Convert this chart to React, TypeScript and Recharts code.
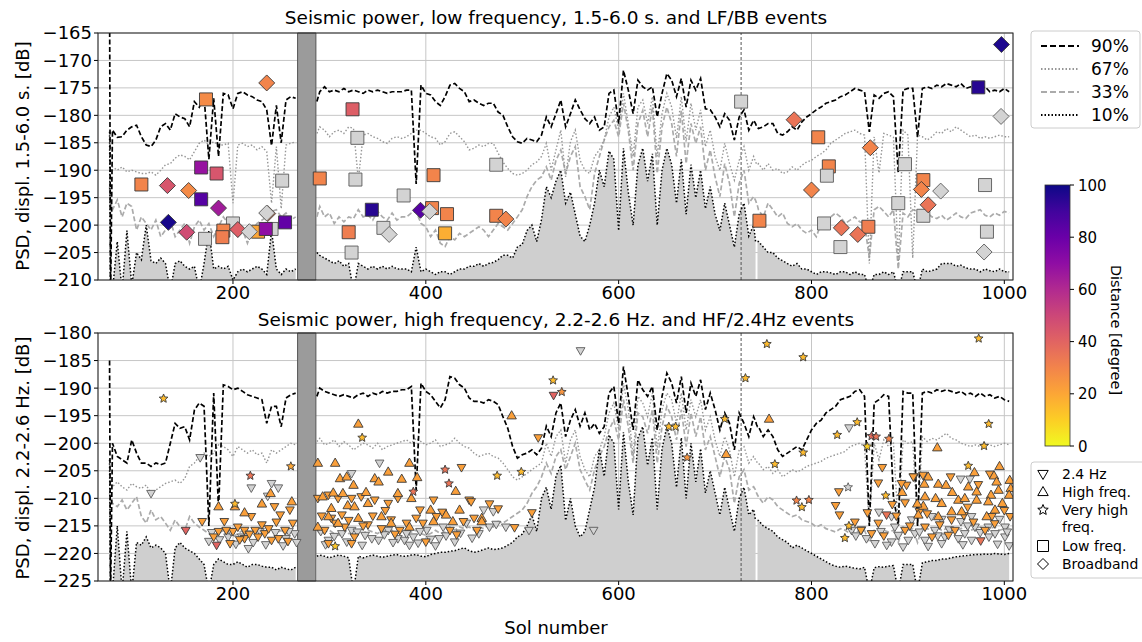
import React from 'react';
import {
  ComposedChart, Line, Area, Scatter, XAxis, YAxis, CartesianGrid,
  ReferenceArea, ReferenceLine,
} from 'recharts';

// ── x grid shared by every percentile curve (sol number) ─────────────
const SOLS = [
  72, 73,
  75, 80, 85, 90, 95, 100, 105, 110, 115, 120,
  125, 130, 135, 140, 145, 150, 155, 160, 165, 170,
  175, 180, 185, 190, 195, 200, 205, 210, 215, 220,
  225, 230, 235, 240, 245, 250, 255, 260, 265,
  276, 287,
  290, 295, 300, 305, 310, 315, 320, 325, 330, 335,
  340, 345, 350, 355, 360, 365, 370, 375, 380, 385,
  390, 395, 400, 405, 410, 415, 420, 425, 430, 435,
  440, 445, 450, 455, 460, 465, 470, 475, 480, 485,
  490, 495, 500, 505, 510, 515, 520, 525, 530, 535,
  540, 545, 550, 555, 560, 565, 570, 575, 580, 585,
  590, 595, 600, 605, 610, 615, 620, 625, 630, 635,
  640, 645, 650, 655, 660, 665, 670, 675, 680, 685,
  690, 695, 700, 705, 710, 715, 720, 725, 730, 735,
  740, 742, 743, 744,
  745, 750, 755, 760, 765, 770, 775, 780, 785, 790,
  795, 800, 805, 810, 815, 820, 825, 830, 835, 840,
  845, 850, 855, 860, 865, 870, 875, 880, 885, 890,
  895, 900, 905, 910, 915, 920, 925, 930, 935, 940,
  945, 950, 955, 960, 965, 970, 975, 980, 985, 990,
  995, 1000, 1005,
];

// ── low frequency panel (dB) ──────────────────────────────────────────
const TOP_P90 = [
  -158, -214,
  -182.7, -184, -183.9, -182.7, -182.1, -181.8, -183.9, -185.4, -185.7, -184.5,
  -182.1, -181.5, -182.7, -179.7, -180.3, -180.6, -182.1, -177.5, -178.5, -176.6,
  -188, -176.9, -187.5, -176, -176.3, -178.8, -176, -175.7, -176.3, -176.6,
  -177.2, -177.5, -179, -185.5, -178.2, -185, -177.2, -176.6, -176.9,
  null, -177.5,
  -175.7, -174.8, -175.7, -175.4, -175.7, -175.1, -175.7, -175.4, -175.7, -176,
  -175.4, -175.7, -175.4, -175.7, -176, -175.7, -175.7, -175.7, -175.4, -175.4,
  -192.5, -174.5, -176, -176.3, -177.5, -178.2, -176.6, -174.5, -174.2, -175.1,
  -175.7, -177.5, -177.2, -177.8, -178.2, -177.8, -177.8, -179.4, -180, -182.1,
  -183.9, -184.8, -185.1, -184.2, -184.5, -184.8, -183.6, -180.3, -182.1, -179.7,
  -177.2, -182.1, -179.7, -177.2, -179, -180.6, -181.5, -180.3, -182.7, -182.1,
  -176, -175.4, -181.5, -171.8, -175.4, -179.7, -173.6, -174.8, -175.4, -174.8,
  -180.3, -176, -172.4, -173.6, -176.6, -173.3, -178.5, -173.6, -175.4, -173.3,
  -178.8, -179, -180.3, -182.1, -179.7, -180.9, -184.5, -180.3, -179, -182.7,
  -180.9, -181.5, -182, -182.2,
  -182.4, -182.1, -181.5, -181.5, -183.3, -183.6, -183, -182.1, -182.7, -181.2,
  -180.3, -179.7, -179, -178.5, -177.8, -177.5, -177.2, -176.6, -176.3, -175.7,
  -175.1, -175.4, -175.7, -183, -176.3, -176.9, -176, -175.7, -176.6, -190.5,
  -175.4, -175.1, -175.1, -184, -175.1, -174.8, -175.1, -174.5, -174.8, -174.2,
  -174.5, -174.8, -174.2, -175.1, -174.8, -175.1, -175.4, -174.8, -175.7, -175.4,
  -175.7, -175.1, -175.7,
];
const TOP_P67 = [
  -188, -190,
  -189.4, -190, -189.4, -190.3, -190, -190.3, -190.6, -190.6, -190.3, -190.9,
  -190, -189, -188.8, -187.8, -187.2, -187.5, -188.1, -186.6, -185.1, -184.5,
  -185.4, -184.8, -185.4, -185.4, -185.1, -196, -185.4, -185.1, -185.7, -185.4,
  -186.3, -185.7, -186.6, -196, -185.7, -197, -185.4, -185.1, -184.8,
  null, -183.3,
  -182.1, -182.7, -183.9, -183, -182.7, -183.3, -182.1, -182.4, -191.8, -183.6,
  -183.3, -183.9, -184.2, -184.8, -185.1, -184.2, -183.9, -184.2, -183.9, -183.3,
  -182.7, -182.7, -183.3, -183.9, -184.2, -185.4, -184.8, -183.3, -183, -183.9,
  -184.8, -186.3, -186, -185.4, -185.7, -185.1, -185.1, -186.9, -188.5, -189.7,
  -190.6, -190.9, -190.6, -190, -189, -188.5, -187.5, -185.1, -190, -186.3,
  -182.7, -191.2, -184.8, -182.7, -188.2, -190, -190.6, -187.5, -186.3, -184.5,
  -180.3, -178.5, -182.7, -176, -181.5, -187.5, -178.5, -177.2, -181.5, -176.6,
  -187.5, -179.7, -176, -178.5, -184.2, -176.6, -184.8, -177.8, -182.7, -179,
  -185.7, -182.7, -187.5, -190, -185.1, -188.8, -191.8, -188.2, -185.7, -190,
  -187.5, -188.5, -188.8, -189,
  -188.8, -190, -188.8, -190, -189.7, -190.6, -190.3, -189.4, -190, -189.1,
  -188.5, -188.2, -187.5, -187, -186.3, -185.1, -184.5, -183.9, -183.3, -183,
  -182.7, -183.3, -183.6, -207, -183.9, -190.5, -183.3, -183.6, -184, -207,
  -182.7, -183.6, -206, -183.6, -183.9, -184.5, -183.9, -183, -183.3, -182.4,
  -183, -182.1, -182.7, -183.3, -183.9, -183.6, -184.2, -183.9, -184.2, -183.9,
  -183.6, -183.9, -183.9,
];
const TOP_P33 = [
  -193, -196,
  -197.2, -195.4, -198.5, -196, -196.6, -200.9, -198.5, -199.7, -200.9, -199.1,
  -202.1, -200.9, -199.1, -202.1, -200.9, -199.7, -203.3, -200.3, -199.1, -200.9,
  -199.7, -202.1, -200.3, -198.5, -199.7, -200.9, -202.1, -200.9, -203.3, -200.9,
  -199.7, -199.1, -198.5, -197.5, -197.2, -198.5, -197.8, -199.1, -198.5,
  null, -198.5,
  -196.6, -198.5, -197.8, -199.7, -198.5, -199.4, -198.5, -198.8, -197.2, -198.5,
  -198.2, -199.1, -197.5, -198.5, -199.1, -197.8, -199.1, -198.5, -198.5, -197.8,
  -197.5, -199.7, -200.3, -202.1, -200.9, -203.3, -203.9, -202.1, -202.7, -201.5,
  -202.1, -201.5, -200.9, -200.3, -200.9, -202.1, -200.9, -199.7, -200.3, -200.9,
  -199.7, -198.5, -197.2, -194.8, -193, -191.8, -191.2, -189.4, -191.8, -188.2,
  -186.3, -190.6, -187.5, -185.7, -193, -194.8, -197.2, -190.6, -187.5, -184.5,
  -182.1, -180.9, -183.9, -177.8, -182.7, -190, -181.5, -179.1, -183.9, -178.5,
  -190.6, -182.1, -178.5, -181.5, -187.5, -179.1, -188.8, -181.5, -185.1, -182.1,
  -190, -186.3, -191.2, -194.8, -188.8, -192.4, -198.5, -192.4, -190, -196,
  -194.8, -195.5, -196, -196.5,
  -197.2, -198.5, -196, -197.2, -198.5, -197.8, -199.7, -200.3, -199.7, -200.9,
  -201.5, -200.9, -202.1, -199.7, -199.1, -198.5, -197.8, -198.5, -199.7, -199.1,
  -198.5, -199.4, -199.7, -206, -197.2, -196.6, -197.5, -198.5, -197.2, -208,
  -197.8, -198.5, -197.2, -197.5, -198.5, -197.8, -198.5, -198.8, -198.2, -199.1,
  -198.5, -197.8, -198.5, -198.8, -197.8, -197.5, -197.2, -198.2, -198.5, -197.8,
  -198.2, -197.5, -197.8,
];
const TOP_P10 = [
  -183, -213,
  -212, -203, -212, -201, -211, -205, -206.3, -200, -206.5, -207,
  -206, -207, -212, -207, -206.5, -207.5, -208, -207.5, -212, -207,
  -201, -208, -207.5, -208, -207.5, -210, -208.5, -208, -208.5, -208,
  -207.5, -208, -209, -201, -208, -209, -208, -208.5, -208,
  null, -205,
  -205.5, -206, -206.5, -207, -206.5, -207.5, -207, -212, -207, -207.5,
  -208, -207.5, -208, -207.5, -208, -207.5, -208, -208, -208, -208.5,
  -204, -208.5, -208, -208.5, -209, -208.5, -208.5, -209, -208.5, -208,
  -208, -207.5, -207.5, -207, -207.5, -207, -206.8, -206.3, -205.5, -205.5,
  -206, -204, -203.5, -201, -200, -203, -199, -193, -195, -192,
  -190, -196, -194, -198, -202, -203, -200, -196, -190, -193,
  -186.5, -188, -201, -186, -194, -200, -189, -186, -192, -187,
  -200, -190, -186, -189, -196, -188, -198, -189, -195, -190,
  -197, -193, -198, -201, -196, -200, -204, -198, -196, -202,
  -200, -203, null, -203,
  -203, -204, -205, -205, -206, -206.5, -207, -207.5, -207, -208,
  -208, -208.5, -209, -208.5, -208.5, -208.7, -209, -208.5, -208.5, -209,
  -208.5, -209, -209, -212, -209, -209, -208.5, -209, -208.5, -212,
  -208.5, -208.5, -208.5, -212, -208, -208.5, -208.3, -208, -207, -207,
  -207, -207.5, -207.3, -207.8, -208, -208, -208.5, -208, -208.3, -208.5,
  -208, -208.5, -208.5,
];

// ── high frequency panel (dB) ─────────────────────────────────────────
const BOT_P90 = [
  -185, -228,
  -200, -202.4, -203, -203.6, -199.4, -201.8, -203.6, -203.6, -204.2, -203.6,
  -203.9, -203.6, -200, -196.4, -197.3, -197, -199.4, -194, -192.7, -193.3,
  -215, -190.9, -212, -189.4, -189.7, -190.3, -190, -190.6, -191.2, -191.5,
  -191.8, -192.1, -196.4, -193.3, -193.3, -197, -191.8, -191.2, -190.9,
  null, -191.5,
  -190, -190.6, -190.9, -191.2, -191.5, -191.2, -191.5, -191.8, -191.2, -190.9,
  -191.5, -190.9, -191.2, -190.6, -190.9, -190.6, -190.6, -190.3, -190.3, -189.7,
  -208.5, -189.1, -190.6, -191.2, -192.4, -193.6, -192.1, -187.9, -188.2, -189.4,
  -190, -191.8, -192.4, -192.4, -192.7, -192.1, -192.4, -193, -195.2, -197.3,
  -200.6, -202.7, -202.1, -201.8, -201.2, -202.1, -200.9, -196.9, -198.8, -194.5,
  -192.7, -198.8, -195.8, -193.9, -196.9, -194.5, -197.6, -196.4, -198.2, -197,
  -190.9, -189.7, -196.4, -186.1, -191.5, -197.6, -188.5, -190.3, -191.5, -189.7,
  -197.6, -191.5, -187.3, -189.1, -192.7, -187.9, -194.5, -189.1, -191.5, -188.5,
  -193.9, -190.9, -193.9, -197.6, -194.5, -196.4, -201.2, -194.5, -196.4, -198.8,
  -195.2, -196, -196.6, -197,
  -197, -198.8, -197.6, -198.8, -201.2, -202.4, -201.8, -201.2, -200.6, -201.2,
  -199.4, -197.6, -196.4, -195.8, -194.5, -193.9, -193.3, -192.1, -191.8, -191.5,
  -190.6, -190.3, -191.5, -215, -192.7, -192.1, -191.2, -191.5, -209.7, -215,
  -190.6, -190.9, -190.9, -215, -190.9, -190.6, -190.9, -190.3, -190.6, -190.3,
  -190.6, -190.9, -190.6, -191.2, -190.9, -191.5, -190.9, -191.5, -191.2, -191.8,
  -191.5, -192.1, -192.4,
];
const BOT_P67 = [
  -205, -207,
  -207.9, -207, -207.9, -208.5, -207.3, -207.9, -208.2, -207.6, -209.1, -208.5,
  -207.9, -207.3, -207, -206.7, -207.3, -206.4, -204.2, -203.6, -202.4, -201.8,
  -202.4, -201.8, -200.3, -200.6, -201.2, -202.4, -200.6, -201.2, -201.8, -201.2,
  -202.1, -201.8, -203.6, -201.2, -201.8, -201.2, -200.6, -200, -200.3,
  null, -199.7,
  -199.1, -200.3, -200, -199.4, -200.6, -199.7, -200.3, -201.2, -200.6, -200,
  -200.3, -200.9, -200, -201.2, -200.6, -200.3, -200, -199.7, -199.4, -200,
  -199.1, -199.7, -200.3, -200, -199.4, -200.6, -200.3, -200, -199.1, -200,
  -200.6, -200.9, -201.8, -202.4, -202.1, -201.8, -202.4, -202.7, -203.6, -204.8,
  -206.1, -206.7, -206.1, -205.5, -204.8, -204.2, -203.6, -200, -202.4, -198.8,
  -197.6, -203.6, -199.4, -197.6, -202.4, -204.8, -206.1, -202.4, -201.2, -198.8,
  -194.5, -192.7, -197.6, -189.1, -193.9, -202.4, -191.5, -192.7, -195.2, -190.9,
  -201.2, -193.9, -190.9, -192.1, -196.4, -190.9, -197.6, -192.1, -195.2, -192.1,
  -197.6, -195.2, -199.4, -202.4, -198.8, -201.2, -206.1, -201.2, -200.6, -203.6,
  -202.4, -203, -203.3, -203.6,
  -203.6, -204.8, -204.2, -205.5, -204.8, -206.1, -205.5, -204.8, -205.2, -204.8,
  -204.2, -203.9, -203.6, -203.3, -202.7, -202.4, -202.1, -201.8, -201.5, -200.6,
  -200.3, -200, -200.6, -215, -200, -203, -199.4, -200.6, -200, -215,
  -199.4, -200, -199.7, -215, -198.8, -199.7, -199.1, -199.4, -198.8, -198.2,
  -199.1, -199.4, -200, -200.3, -200.6, -200.3, -200.6, -200, -200.3, -200.6,
  -200.3, -200, -200.3,
];
const BOT_P33 = [
  -209, -210,
  -210.9, -211.5, -210.3, -212.1, -210.9, -209.7, -213.3, -214.5, -212.1, -213.9,
  -213.3, -214.5, -215.8, -213.9, -215.2, -215.8, -213.3, -214.5, -215.2, -215.8,
  -216.4, -217, -216.4, -215.8, -216.4, -217, -216.4, -215.8, -216.4, -216.1,
  -215.8, -216.4, -215.8, -216.1, -216.4, -215.8, -216.4, -215.8, -216.4,
  null, -215.8,
  -216.4, -216.1, -215.8, -216.4, -216.7, -215.8, -216.4, -216.1, -215.8, -216.4,
  -215.8, -216.1, -216.4, -215.8, -216.1, -215.8, -216.4, -215.8, -216.4, -216.1,
  -215.8, -216.4, -216.7, -216.4, -215.8, -216.4, -216.1, -215.2, -215.8, -215.2,
  -215.5, -215.2, -215.8, -215.2, -215.5, -214.8, -215.2, -214.2, -214.5, -213.9,
  -213.3, -212.7, -212.1, -210.9, -209.1, -207.9, -206.1, -203.6, -205.5, -202.4,
  -201.2, -204.8, -202.4, -200, -204.8, -206.7, -208.5, -204.8, -202.4, -200.6,
  -197.6, -195.8, -199.4, -192.1, -197, -203.6, -194.5, -195.2, -198.2, -193.9,
  -203.6, -197, -193.3, -195.2, -199.4, -193.9, -200.6, -194.5, -198.8, -195.2,
  -201.2, -198.8, -202.4, -206.1, -202.4, -204.8, -210.9, -206.1, -204.8, -208.5,
  -207.9, -208.5, -209, -209.4,
  -209.7, -210.9, -209.7, -210.3, -211.5, -212.1, -212.7, -213.3, -213, -213.9,
  -214.2, -214.5, -215.2, -214.8, -215.5, -215.8, -216.1, -215.5, -215.8, -216.4,
  -215.8, -216.1, -215.8, -218, -215.8, -215.5, -215.8, -216.1, -215.8, -218,
  -215.2, -215.8, -215.5, -218, -215.2, -215.5, -215.8, -215.2, -215.8, -215.5,
  -215.2, -215.8, -215.5, -215.2, -215.8, -215.5, -215.2, -215.8, -215.5, -215.2,
  -215.8, -215.5, -215.2,
];
const BOT_P10 = [
  -203, -228,
  -227, -215, -227, -216, -227, -218, -218.5, -217, -219, -218.5,
  -219, -220, -227, -219, -218, -219, -219.5, -220, -221, -222,
  -227, -222, -221, -221.5, -222, -222, -221.5, -222, -222.5, -222,
  -222, -222.3, -222.5, -222.5, -223, -222.5, -222.8, -223, -222.5,
  null, -220.5,
  -220.3, -220.5, -220.8, -220.5, -220.3, -220.5, -220.8, -227, -220.5, -220.8,
  -220.5, -220.3, -220.5, -220.7, -220.5, -220.3, -220.2, -220.5, -220.5, -220.3,
  -220.2, -220.5, -220.6, -220.2, -220, -219.8, -219.8, -219.6, -219.5, -219.2,
  -219, -219.5, -219.8, -219.6, -219.3, -219, -219.3, -219.2, -219, -218.5,
  -218, -217, -216.5, -215, -213, -216, -210, -208, -212, -206,
  -204, -214, -210, -215, -217, -216, -212, -208, -201, -206,
  -198.5, -200, -212, -198, -207, -213, -199, -197, -204, -199,
  -212, -201, -197, -200, -208, -199, -210, -200, -207, -201,
  -209, -205, -209, -213, -208, -212, -216, -210, -208, -213,
  -212, -214, null, -214,
  -214, -215, -215.5, -216, -217, -217.5, -218, -219, -218.5, -219,
  -219.5, -220, -220.5, -221, -221.5, -222, -222.3, -222.5, -222.3, -222.5,
  -222.7, -222.8, -222.5, -227, -222.6, -222.4, -222.5, -222.3, -222.2, -227,
  -222, -222, -222, -227, -221.7, -221.5, -221.3, -221.3, -221, -221,
  -220.8, -220.6, -220.5, -220.4, -220.3, -220.2, -220.2, -220.1, -220.2, -220,
  -220.1, -220.2, -220,
];

// ── events: [sol, psd dB, distance deg (null = unknown)] ─────────────
type Ev = [number, number, number | null];

const LF_EVENTS: Ev[] = [
  [105, -192.6, 30], [172, -177.1, 28], [171, -202.5, null], [200, -199.7, null],
  [240, -200.7, null], [251, -191.9, null], [167, -189.5, 68], [167, -195.3, 85],
  [183, -190.6, 45], [190, -201, 30], [189, -202.2, 32], [226, -201.2, 20],
  [234, -200.7, 70], [254, -199.5, 82], [290, -191.5, 30], [324, -178.9, 42],
  [329, -184.1, null], [327, -191.7, null], [377, -194.6, null], [344, -197.2, 95],
  [320, -201.3, 32], [323, -205, null], [356, -200.5, null], [408, -190.9, 30],
  [406.5, -196.9, 30], [422, -198, 30], [420, -201.5, 18], [473, -189, null],
  [473, -198.3, 30], [727, -177.5, null], [807, -184, 30], [818, -189.3, 30],
  [816, -191, null], [746, -199.2, 30], [813, -199.7, null], [830, -204, null],
  [859, -200.3, 32], [897, -188.9, null], [890, -196, null], [916, -191.8, 30],
  [916, -198.3, null], [973, -174.9, 95], [980, -192.7, null], [982, -201.2, null],
];

const BB_EVENTS: Ev[] = [
  [132, -192.8, 45], [154, -193.7, 28], [185, -196.9, 65], [133, -199.5, 98],
  [152, -201.3, 48], [205, -200.8, 42], [217, -201.2, null], [236, -197.9, 30],
  [235, -197.8, null], [235, -174.1, 30], [362, -201.7, null], [394.5, -197.3, 85],
  [404, -197.5, null], [483, -198.9, 30], [782, -180.8, 35], [800, -193.6, 30],
  [831, -200.5, 35], [848, -201.7, 35], [861, -185.9, 30], [914, -193.5, 30],
  [921, -196.3, 35], [934, -193.8, null], [997, -167.1, 97], [996.6, -180.2, null],
  [979, -204.9, null],
];

const HZ24_EVENTS: Ev[] = [
  [166, -202.6, null], [115, -209.1, null], [219, -208.1, null], [247, -208.1, null],
  [240, -207.3, null], [236, -209.6, null], [175, -217.8, null], [195, -217, null],
  [216, -219.1, null], [255, -217.3, null], [264, -216.4, null], [209, -217, null],
  [323, -205.5, null], [352, -203.6, null], [361, -215.8, null], [371, -217.3, null],
  [299, -217.6, null], [313, -216.4, null], [337, -216.7, null], [351, -217.6, null],
  [323, -215.8, null],
  [178, -216.2, null], [186, -217.5, null], [198, -216, null], [203, -218.3, null],
  [214, -216.5, null], [221, -218, null], [228, -216, null], [234, -218.4, null],
  [244, -216.2, null], [252, -218.6, null], [258, -216, null], [266, -218, null],
  [291, -216, null], [296, -218.4, null], [305, -216.9, null], [318, -217.9, null],
  [329, -216.1, null], [334, -218.5, null], [344, -217.3, null], [357, -216.6, null],
  [366, -218, null], [378, -217.6, null], [383, -218.5, null], [392, -218.1, null],
  [405, -217.4, null], [410, -218.6, null], [421, -216.8, null], [430, -217.9, null],
  [436, -216.3, null], [448, -217.2, null], [455, -216.4, null],
  [168, -214.2, 22], [151, -215.8, 40], [185, -216, 22], [191, -214.2, 22],
  [200, -216, 22], [205, -215.2, 22], [212, -215.8, 22], [219, -213.3, 22],
  [223, -215.8, 22], [230, -214.8, 22], [233, -216.4, 22], [243, -211.5, 22],
  [249, -213, 22], [254, -215.8, 22], [259, -212.1, 22], [262, -214.5, 22],
  [247, -217.3, 22], [240, -217.6, 22], [226, -217, 22], [212, -217.3, 22],
  [193, -215.8, 22], [183, -218.5, 40], [288, -210, 22], [299, -209.4, 22],
  [309, -210, 22], [323, -210, 22], [333, -209.7, 22], [347, -210.3, 22],
  [361, -210.9, 22], [371, -210, 22], [295, -215.8, 22], [306, -214.5, 22],
  [316, -215.2, 22], [326, -217, 22], [340, -214.8, 22], [354, -215.5, 22],
  [364, -213.9, 22], [373, -215.8, 22], [299, -218.2, 22], [323, -218.2, 22],
  [302, -213.6, 22], [313, -213, 22],
  [180, -217, 22], [197, -218.2, 22], [207, -217.5, 22], [217, -216.5, 22],
  [237, -215.5, 22], [245, -214.3, 22], [257, -217.8, 22], [292, -213.2, 22],
  [320, -214, 22], [335, -215, 22], [345, -213.2, 22], [358, -212.2, 22],
  [368, -216.5, 22], [400, -217.9, 22], [417, -212.5, 22], [432, -216.6, 22],
  [450, -213.6, 22],
  [560.5, -183.2, null], [460, -212.1, null], [470, -212.4, null], [507, -215.8, null],
  [483, -215.2, null], [473, -214.7, null], [442, -214.5, null], [418, -215.2, null],
  [401, -215.8, null], [394, -216, null], [380, -216.4, null], [466, -215.2, null],
  [574, -215.8, null], [414, -217.3, null], [387, -217, null],
  [532.5, -191.3, 40], [437, -204.4, 22], [445, -210.3, 22], [447, -210.6, 22],
  [466, -211, 22], [475, -211.9, 22], [516.6, -199, 22], [510, -212.6, 22],
  [492, -215.3, 22], [411, -213.3, 22], [397, -214.5, 22], [390, -213.6, 22],
  [408, -210.3, 22], [394, -212.1, 22], [439, -214.2, 22], [425, -215.8, 22],
  [380, -214.5, 22], [453, -215.8, 22],
  [839, -197.2, null], [984, -217, null], [851.9, -215.7, null], [886.5, -215.2, null],
  [907.3, -216.4, null], [928, -215.8, null], [938.4, -217, null], [959, -216.4, null],
  [969.6, -215.2, null], [990.3, -216.4, null], [1000.7, -215.2, null], [865.8, -218.2, null],
  [883, -217.9, null], [900.4, -217.6, null], [917.7, -217.6, null], [935, -218.2, null],
  [952.3, -217.3, null], [966, -217.6, null], [983.4, -215.2, null], [1000.7, -217, null],
  [883, -213.3, null], [904, -213.9, null], [924.6, -213.3, null], [966, -213.3, null],
  [841.6, -215.8, null], [954.7, -206.5, null], [964.4, -206.5, null],
  [846, -216.8, null], [857, -217.3, null], [872, -216, null], [878, -218.5, null],
  [890, -216.7, null], [895, -218.8, null], [912, -216.1, null], [921, -218.7, null],
  [931, -216.8, null], [943, -215.7, null], [957, -218.4, null], [962, -215, null],
  [975, -216.2, null], [993, -218.3, null], [1003, -216.1, null], [870, -212.5, null],
  [935, -213.8, null], [995, -213.8, null], [955, -214.2, null], [1005, -218.6, null],
  [828.4, -208.8, 22], [825, -211.3, 22], [829, -213, 22], [869.3, -207.2, 22],
  [873.4, -204.4, 22], [883.8, -211.1, 22], [897, -210.8, 22], [906.3, -206.1, 22],
  [944.3, -206.1, 22], [973, -207.5, 22], [985, -205.6, 22], [975.5, -217.7, 35],
  [862.3, -216.4, 22], [869.3, -214.5, 22], [877.9, -213, 35], [897, -215.8, 22],
  [917.7, -215.2, 22], [948.8, -215.8, 22], [980, -215.8, 22], [1006, -213.3, 22],
  [945.3, -213.9, 22], [987, -213.3, 22], [851.3, -215.8, 20], [905.6, -206.1, 22],
  [898.6, -207.6, 22], [893.4, -207.3, 22], [915.6, -205.8, 22],
  [845, -214.3, 22], [858, -212.6, 22], [875, -216.8, 22], [888, -213.2, 22],
  [902, -215, 22], [912, -212.4, 22], [925, -217, 22], [933, -214.8, 22],
  [942, -216.7, 22], [958, -213.1, 22], [968, -214.3, 22], [990, -214.6, 22],
  [1000, -212.2, 22], [920, -212.8, 22], [962, -211.6, 22],
];

const HF_EVENTS: Ev[] = [
  [185, -211.5, 22], [202, -211.5, 22], [212, -212.6, 22], [230, -211, 22],
  [239, -209.1, 22], [261, -210.6, 22], [288, -203.6, 22], [306, -203.6, 22],
  [311, -206.4, 22], [318, -206.1, 22], [325, -207.6, 22], [330, -196.5, 22],
  [314, -209.1, 22], [304, -209, 22], [293, -209.7, 22], [302, -211.8, 22],
  [319, -211.3, 22], [326, -211.5, 22], [338, -208.9, 22], [347, -206.4, 22],
  [351, -207, 22], [361, -205.2, 22], [371, -209.1, 22], [375, -206.5, 22],
  [340, -210.9, 22], [299, -213.3, 22], [288, -215.2, 22], [309, -214.5, 22],
  [330, -213.6, 22], [354, -213.3, 22], [364, -214.5, 22],
  [383, -203.6, 22], [391, -206.2, 22], [385, -210, 22], [405, -212.1, 22],
  [431, -208.7, 22], [435, -212.1, 22], [428, -214.2, 22], [489, -195, 22],
  [458, -213.6, 22], [458, -214.2, 22], [408, -214.2, 22], [383, -215.2, 22],
  [421, -213, 22],
  [756, -195.6, 22], [711.5, -202, 22], [930.5, -200.8, 22], [921, -206.1, 22],
  [917, -207.4, 22], [931.5, -207.4, 22], [939.5, -207.6, 22], [946, -208.9, 22],
  [969, -205.3, 22], [995, -204.2, 22], [989.3, -205.9, 22], [1005.6, -206.7, 22],
  [992, -207, 22], [1006.6, -208.2, 22], [986.2, -209.4, 22], [994, -208.5, 22],
  [971.3, -208.8, 22], [962.6, -207.9, 22], [945.3, -212.4, 22], [928.7, -210, 22],
  [916, -211.4, 22], [909.7, -211, 22], [935, -210.9, 22], [952.3, -210.3, 22],
  [971.3, -210.3, 22], [983.4, -210.6, 22], [990.3, -212.1, 22], [1005, -209.4, 22],
  [998, -210.9, 22], [981.7, -213.3, 22], [894, -208.9, 22], [917.7, -209.7, 22],
  [959, -210, 22], [955.7, -212.4, 22], [910.8, -213, 22], [931.5, -213.3, 22],
];

const VF_EVENTS: Ev[] = [
  [128, -191.9, 15], [218, -205.9, 35], [260, -204.2, 20], [334, -199, 15],
  [306, -218.7, 12], [202, -211, 15], [420, -204.8, 35], [424, -207.3, 35],
  [474, -205.9, 15], [499, -205.2, 15], [532, -188.6, 15], [541, -190.7, 25],
  [652, -197, 15], [659, -197, 15], [671, -202.6, 25], [387, -208.8, 35],
  [753.7, -182, 15], [791.4, -184.4, 15], [973.4, -181, 15], [731.5, -188.2, 15],
  [710, -195.6, 15], [847.4, -196.2, 15], [826.7, -198.5, 15], [983.8, -196.5, 15],
  [979, -200.5, 15], [762, -203.8, 15], [791.4, -201.7, 15], [962.6, -204.1, 15],
  [784.5, -210.4, 30], [797.3, -210.3, 30], [790, -211.6, 15], [838, -208, null],
  [857.8, -200.6, 10], [877, -209.5, 15], [862.3, -198.7, 38], [867, -198.8, 35],
  [880.3, -199.2, 30], [838.8, -215, 15], [834.6, -217.2, 15],
];

const X_TICKS = [200, 400, 600, 800, 1000];
const TOP_Y_TICKS = [-210, -205, -200, -195, -190, -185, -180, -175, -170, -165];
const BOT_Y_TICKS = [-225, -220, -215, -210, -205, -200, -195, -190, -185, -180];
const CBAR_TICKS = [0, 20, 40, 60, 80, 100];

// plasma colormap, reversed so 0 deg is yellow
const PLASMA = ['#0d0887', '#41049d', '#6a00a8', '#8f0da4', '#b12a90', '#cc4778',
  '#e16462', '#f2844b', '#fca636', '#fcce25', '#f0f921'];

function hexToRgb(h: string) {
  return [1, 3, 5].map((i) => parseInt(h.slice(i, i + 2), 16));
}

function distColor(d: number | null) {
  if (d == null) return '#d3d3d3';
  const t = (1 - Math.min(100, Math.max(0, d)) / 100) * (PLASMA.length - 1);
  const i = Math.min(PLASMA.length - 2, Math.floor(t));
  const f = t - i;
  const a = hexToRgb(PLASMA[i]);
  const b = hexToRgb(PLASMA[i + 1]);
  const c = a.map((v, k) => Math.round(v + (b[k] - v) * f));
  return `rgb(${c[0]},${c[1]},${c[2]})`;
}

const toPts = (arr: Ev[]) => arr.map(([sol, psd, dist]) => ({ sol, psd, dist }));

function starPath(cx: number, cy: number, ro: number, ri: number) {
  let d = '';
  for (let k = 0; k < 10; k++) {
    const r = k % 2 === 0 ? ro : ri;
    const a = -Math.PI / 2 + (k * Math.PI) / 5;
    d += `${k === 0 ? 'M' : 'L'}${cx + r * Math.cos(a)},${cy + r * Math.sin(a)}`;
  }
  return d + 'Z';
}

function symbolPath(kind: string, cx: number, cy: number, s: number) {
  switch (kind) {
    case 'square':
      return `M${cx - s},${cy - s}L${cx + s},${cy - s}L${cx + s},${cy + s}L${cx - s},${cy + s}Z`;
    case 'diamond':
      return `M${cx},${cy - s}L${cx + s},${cy}L${cx},${cy + s}L${cx - s},${cy}Z`;
    case 'up':
      return `M${cx},${cy - s}L${cx + s * 0.95},${cy + s * 0.65}L${cx - s * 0.95},${cy + s * 0.65}Z`;
    case 'down':
      return `M${cx},${cy + s}L${cx + s * 0.95},${cy - s * 0.65}L${cx - s * 0.95},${cy - s * 0.65}Z`;
    default:
      return starPath(cx, cy, s, s * 0.45);
  }
}

function makeShape(kind: string, s: number) {
  return (props: any) => {
    const { cx, cy, payload } = props;
    if (cx == null || cy == null) return <g />;
    const unknown = payload.dist == null;
    return (
      <path
        d={symbolPath(kind, cx, cy, s)}
        fill={distColor(payload.dist)}
        stroke={unknown ? '#5a5a5a' : '#3a3a3a'}
        strokeWidth={0.9}
      />
    );
  };
}

const FONT = 'DejaVu Sans, Liberation Sans, sans-serif';
const fmtY = (v: number) => String(v).replace('-', '\u2212');

type PanelProps = {
  top: number;
  height: number;
  yMin: number;
  yMax: number;
  yTicks: number[];
  p90: (number | null)[];
  p67: (number | null)[];
  p33: (number | null)[];
  p10: (number | null)[];
  children?: React.ReactNode;
};

function Panel({ top, height, yMin, yMax, yTicks, p90, p67, p33, p10, children }: PanelProps) {
  const rows = SOLS.map((sol, i) => ({ sol, p90: p90[i], p67: p67[i], p33: p33[i], p10: p10[i] }));
  return (
    <div style={{ position: 'absolute', left: 0, top, width: 1142, height }}>
      <ComposedChart width={1142} height={height} data={rows} margin={{ top: 33, right: 129, bottom: 0, left: 0 }}>
        <CartesianGrid stroke="#c6c6c6" strokeWidth={1} />
        <XAxis
          dataKey="sol" type="number" domain={[60, 1009]} ticks={X_TICKS} allowDataOverflow
          height={26} axisLine={false} tickSize={4} tickMargin={2}
          tick={{ fontSize: 18, fill: '#000', fontFamily: FONT }} tickLine={{ stroke: '#000' }}
        />
        <YAxis
          type="number" domain={[yMin, yMax]} ticks={yTicks} allowDataOverflow width={98}
          axisLine={false} tickSize={4} tickMargin={2} tickFormatter={fmtY}
          tick={{ fontSize: 18, fill: '#000', fontFamily: FONT }} tickLine={{ stroke: '#000' }}
        />
        <Area
          dataKey="p10" type="linear" baseValue={yMin - 20} stroke="none" fill="#cfcfcf"
          fillOpacity={1} isAnimationActive={false} dot={false} activeDot={false}
        />
        <ReferenceArea x1={267} x2={286} fill="#9b9b9b" fillOpacity={1} stroke="#555" strokeWidth={1} />
        <ReferenceLine x={727} stroke="#555" strokeDasharray="3 2" strokeWidth={1} />
        <Line dataKey="p33" type="linear" stroke="#ababab" strokeWidth={1.7} strokeDasharray="5 2.5"
          dot={false} activeDot={false} isAnimationActive={false} />
        <Line dataKey="p67" type="linear" stroke="#969696" strokeWidth={1.4} strokeDasharray="1.5 2"
          dot={false} activeDot={false} isAnimationActive={false} />
        <Line dataKey="p10" type="linear" stroke="#000" strokeWidth={1.5} strokeDasharray="1.5 2"
          dot={false} activeDot={false} isAnimationActive={false} />
        <Line dataKey="p90" type="linear" stroke="#000" strokeWidth={1.7} strokeDasharray="5 2.5"
          dot={false} activeDot={false} isAnimationActive={false} />
        {children}
      </ComposedChart>
    </div>
  );
}

function Overlay() {
  const cbTop = 185;
  const cbH = 261;
  const legendLines = [
    { label: '90%', color: '#000', dash: '6 3' },
    { label: '67%', color: '#969696', dash: '1.5 2' },
    { label: '33%', color: '#ababab', dash: '6 3' },
    { label: '10%', color: '#000', dash: '1.5 2' },
  ];
  const markerRows = [
    { kind: 'down', y: 474, lines: ['2.4 Hz'] },
    { kind: 'up', y: 492, lines: ['High freq.'] },
    { kind: 'star', y: 510, lines: ['Very high', 'freq.'] },
    { kind: 'square', y: 546, lines: ['Low freq.'] },
    { kind: 'diamond', y: 564, lines: ['Broadband'] },
  ];
  return (
    <svg width={1142} height={642} style={{ position: 'absolute', left: 0, top: 0, pointerEvents: 'none' }}
      fontFamily={FONT}>
      <defs>
        <linearGradient id="plasma" x1="0" y1="1" x2="0" y2="0">
          {PLASMA.slice().reverse().map((c, i) => (
            <stop key={i} offset={`${(i / (PLASMA.length - 1)) * 100}%`} stopColor={c} />
          ))}
        </linearGradient>
      </defs>

      {/* plot frames */}
      <rect x={98} y={33} width={915} height={247} fill="none" stroke="#222" strokeWidth={1} />
      <rect x={98} y={333} width={915} height={248} fill="none" stroke="#222" strokeWidth={1} />

      {/* titles and axis labels */}
      <text x={556} y={24} fontSize={18.5} textAnchor="middle">
        Seismic power, low frequency, 1.5-6.0 s. and LF/BB events
      </text>
      <text x={556} y={326} fontSize={18.5} textAnchor="middle">
        Seismic power, high frequency, 2.2-2.6 Hz. and HF/2.4Hz events
      </text>
      <text x={556} y={634} fontSize={18} textAnchor="middle">Sol number</text>
      <text x={29} y={156} fontSize={18} textAnchor="middle" transform="rotate(-90 29 156)">
        PSD, displ. 1.5-6.0 s. [dB]
      </text>
      <text x={29} y={458} fontSize={18} textAnchor="middle" transform="rotate(-90 29 458)">
        PSD, displ. 2.2-2.6 Hz. [dB]
      </text>

      {/* percentile legend */}
      <rect x={1031} y={31} width={109} height={97} rx={3} fill="#fff" fillOpacity={0.9} stroke="#cccccc" />
      {legendLines.map((l, i) => (
        <g key={l.label}>
          <line x1={1041} x2={1079} y1={46 + i * 23} y2={46 + i * 23} stroke={l.color}
            strokeWidth={2} strokeDasharray={l.dash} />
          <text x={1091} y={52 + i * 23} fontSize={17}>{l.label}</text>
        </g>
      ))}

      {/* colorbar */}
      <rect x={1045} y={cbTop} width={25} height={cbH} fill="url(#plasma)" stroke="#333" strokeWidth={0.8} />
      {CBAR_TICKS.map((v) => {
        const y = cbTop + cbH - (v / 100) * cbH;
        return (
          <g key={v}>
            <line x1={1070} x2={1074} y1={y} y2={y} stroke="#000" />
            <text x={1078} y={y + 5.5} fontSize={15}>{v}</text>
          </g>
        );
      })}
      <text x={1111} y={330} fontSize={14.5} textAnchor="middle" transform="rotate(90 1111 330)">
        Distance [degree]
      </text>

      {/* event type legend */}
      <rect x={1031} y={462} width={120} height={116} rx={3} fill="#fff" fillOpacity={0.9} stroke="#cccccc" />
      {markerRows.map((m) => (
        <g key={m.kind}>
          <path d={symbolPath(m.kind, 1043, m.y, 5.5)} fill="#fff" stroke="#000" strokeWidth={1} />
          {m.lines.map((t, j) => (
            <text key={t} x={1062} y={m.y + 5 + j * 17} fontSize={14}>{t}</text>
          ))}
        </g>
      ))}
    </svg>
  );
}

export default function App() {
  return (
    <div style={{ position: 'relative', width: 1142, height: 642, background: '#fff', fontFamily: FONT }}>
      <style>{'body{margin:0}'}</style>
      <Panel top={0} height={306} yMin={-210} yMax={-165} yTicks={TOP_Y_TICKS}
        p90={TOP_P90} p67={TOP_P67} p33={TOP_P33} p10={TOP_P10}>
        <Scatter data={toPts(LF_EVENTS)} dataKey="psd" shape={makeShape('square', 6.5)} isAnimationActive={false} />
        <Scatter data={toPts(BB_EVENTS)} dataKey="psd" shape={makeShape('diamond', 8)} isAnimationActive={false} />
      </Panel>
      <Panel top={300} height={307} yMin={-225} yMax={-180} yTicks={BOT_Y_TICKS}
        p90={BOT_P90} p67={BOT_P67} p33={BOT_P33} p10={BOT_P10}>
        <Scatter data={toPts(HZ24_EVENTS)} dataKey="psd" shape={makeShape('down', 4.6)} isAnimationActive={false} />
        <Scatter data={toPts(HF_EVENTS)} dataKey="psd" shape={makeShape('up', 5)} isAnimationActive={false} />
        <Scatter data={toPts(VF_EVENTS)} dataKey="psd" shape={makeShape('star', 4.6)} isAnimationActive={false} />
      </Panel>
      <Overlay />
    </div>
  );
}
